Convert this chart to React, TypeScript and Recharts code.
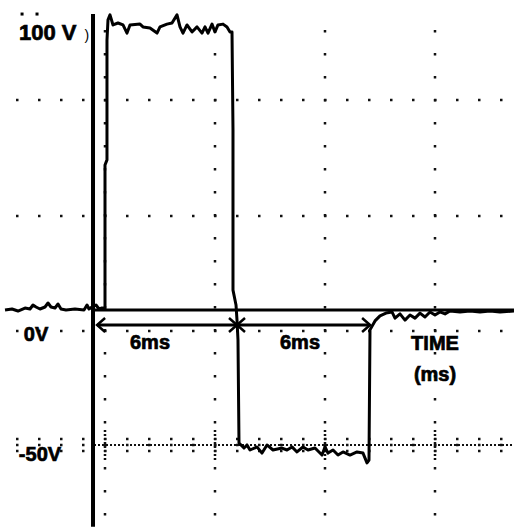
import React from 'react';
import { LineChart, Line, XAxis, YAxis, ReferenceLine, ReferenceDot } from 'recharts';

// Oscilloscope trace: time (ms) and voltage (V)
const sigTimeMs = [
  -4.545, -4.227, -3.955, -3.636, -3.409, -3.273, -3.136, -2.955, -2.727, -2.591,
  -2.455, -2.273, -2.136, -2.0, -1.773, -1.364, -0.955, -0.818, -0.727, -0.591,
  -0.409, -0.273, -0.136, 0.0,
  0.0, 0.09, 0.09, 0.136, 0.227,
  0.364, 0.591, 0.818, 1.0, 1.136, 1.591, 1.727, 2.045, 2.364, 2.5,
  2.818, 3.045, 3.273, 3.409, 3.545, 3.727, 3.955, 4.182, 4.409, 4.545,
  4.682, 4.864, 5.0, 5.136, 5.364, 5.545, 5.682,
  5.773, 5.818, 5.818, 5.955, 6.0, 6.045, 6.091,
  6.318, 6.455, 6.591, 6.909, 7.136, 7.364, 7.636, 8.045, 8.273, 8.5,
  8.727, 9.0, 9.227, 9.545, 9.864, 10.0, 10.136, 10.364, 10.591, 10.818,
  11.136, 11.455, 11.727, 11.909, 12.0,
  12.045, 12.273, 12.5, 12.773, 13.045,
  13.182, 13.409, 13.636, 13.864, 14.091, 14.318, 14.545, 14.773, 15.0, 15.227,
  15.455, 15.682, 16.136, 16.591, 17.045, 17.5, 17.955, 18.59,
];
const sigVolts = [
  0, 0.36, -0.36, 0.71, 0.36, 1.79, 1.07, 0.36, 1.07, 2.5,
  1.07, 0.71, 2.14, 0.36, 0, 0.36, 0, 1.79, 0.36, 1.07,
  1.79, 0.36, 0.71, 0.36,
  51.8, 53.6, 96.4, 103.6, 105.4,
  101.8, 102.5, 101.8, 98.9, 101.8, 102.1, 101.1, 100.7, 98.9, 101.1,
  102.1, 102.5, 105.4, 101.1, 98.9, 101.8, 99.3, 101.1, 98.9, 101.1,
  98.9, 102.1, 99.3, 101.8, 102.1, 101.1, 99.3,
  99.3, 64.3, 7.1, 1.8, -3.6, -10.7, -47.5,
  -49.3, -48.2, -50, -48.9, -51.1, -48.2, -50, -49.3, -50, -48.9,
  -50.7, -48.9, -50, -49.3, -51.8, -48.9, -51.1, -50, -51.8, -50.7,
  -51.8, -50.7, -51.1, -54.6, -53.6,
  -7.1, -3.9, -2.1, -1.1, -0.7,
  -2.9, -1.4, -3.6, -1.8, -2.9, -1.1, -2.5, -0.7, -1.8, -0.7,
  -1.4, -0.36, -0.7, -0.36, -0.7, -0.36, -0.7, -0.36,
];

const yTickValues = [100, 0, -50];
const yTickLabels = ['100 V', '0V', '-50V'];

const intervalFromMs = [-0.36, 6.0];
const intervalToMs = [6.0, 12.05];
const intervalLabels = ['6ms', '6ms'];

const xAxisTitle = ['TIME', '(ms)'];

const gridColsMs = [0, 5, 10, 15];
const gridRowsV = [75, 33.57, -7.5, -48.21];

const data = sigTimeMs.map((t, i) => ({ t, v: sigVolts[i] }));

const X_MIN = -4.7727;
const X_MAX = 18.5909;
const Y_MIN = -77.5;
const Y_MAX = 110.714;

const FONT = "'Liberation Sans', Arial, Helvetica, sans-serif";

// layout of labels (position in data units + pixel offsets)
const yLabelLayout = [
  { t: -2.6, dy: 10, size: 22 },
  { t: -3.136, dy: 31, size: 20 },
  { t: -2.955, dy: 11, size: 20 },
];
const intervalLabelLayout = [
  { t: 2.045, v: -14.0 },
  { t: 8.864, v: -14.0 },
];
const titleLayout = [
  { t: 15.0, v: -14.3 },
  { t: 15.0, v: -25.4 },
];

const ArrowShape = (p: any) => {
  const a = Math.min(p.x1, p.x2);
  const b = Math.max(p.x1, p.x2);
  const y = p.y1;
  const hl = 8;
  const hw = 7;
  return (
    <g>
      <line x1={a} y1={y} x2={b} y2={y} stroke="#000" strokeWidth={3} />
      <polyline points={`${a + hl},${y - hw} ${a},${y} ${a + hl},${y + hw}`} fill="none" stroke="#000" strokeWidth={2.5} />
      <polyline points={`${b - hl},${y - hw} ${b},${y} ${b - hl},${y + hw}`} fill="none" stroke="#000" strokeWidth={2.5} />
    </g>
  );
};

const textShape = (label: string, dy: number, size: number) => (p: any) => (
  <text
    x={p.cx}
    y={p.cy + dy}
    textAnchor="middle"
    fontFamily={FONT}
    fontWeight="bold"
    fontSize={size}
    fill="#000"
    stroke="#000"
    strokeWidth={0.7}
  >
    {label}
  </text>
);

const dotShape = (p: any) => <rect x={p.cx - 1.5} y={p.cy - 1.5} width={3} height={3} fill="#000" />;
const parenShape = (p: any) => (
  <text x={p.cx} y={p.cy} textAnchor="middle" fontFamily={FONT} fontSize={14} fill="#000">)</text>
);

export default function App() {
  return (
    <div style={{ position: 'absolute', left: 0, top: 0, width: 514, height: 527, background: '#fff' }}>
      <LineChart width={514} height={527} data={data} margin={{ top: 0, right: 0, bottom: 0, left: 0 }}>
        <XAxis type="number" dataKey="t" domain={[X_MIN, X_MAX]} allowDataOverflow hide />
        <YAxis type="number" domain={[Y_MIN, Y_MAX]} allowDataOverflow hide />

        {/* dotted grid columns */}
        {gridColsMs.map((c) => (
          <ReferenceLine
            key={`gc${c}`}
            ifOverflow="visible"
            segment={[{ x: c, y: 100 }, { x: c, y: Y_MIN + 0.1 }]}
            stroke="#111"
            strokeWidth={2.5}
            strokeDasharray="2.5 20.5"
          />
        ))}
        {/* dotted grid rows */}
        {gridRowsV.map((r) => (
          <ReferenceLine
            key={`gr${r}`}
            ifOverflow="visible"
            segment={[{ x: -4.045, y: r }, { x: X_MAX - 0.001, y: r }]}
            stroke="#111"
            strokeWidth={2.5}
            strokeDasharray="2.5 19.5"
          />
        ))}
        {/* -50 V reference row: fine dotted line with small tick groups */}
        <ReferenceLine ifOverflow="visible" segment={[{ x: -0.5, y: -48.21 }, { x: X_MAX - 0.001, y: -48.21 }]} stroke="#111" strokeWidth={2} strokeDasharray="2 2" />
        <ReferenceLine ifOverflow="visible" segment={[{ x: -4.045, y: -46.07 }, { x: X_MAX - 0.001, y: -46.07 }]} stroke="#111" strokeWidth={2.5} strokeDasharray="2.5 19.5" />
        <ReferenceLine ifOverflow="visible" segment={[{ x: -4.045, y: -50.36 }, { x: X_MAX - 0.001, y: -50.36 }]} stroke="#111" strokeWidth={2.5} strokeDasharray="2.5 19.5" />
        {gridColsMs.map((c) => (
          <ReferenceLine
            key={`gt${c}`}
            ifOverflow="visible"
            segment={[{ x: c, y: -42.86 }, { x: c, y: -53.57 }]}
            stroke="#111"
            strokeWidth={2.5}
            strokeDasharray="2 2"
          />
        ))}

        {/* axes */}
        <ReferenceLine ifOverflow="visible" segment={[{ x: -0.545, y: 105.7 }, { x: -0.545, y: Y_MIN + 0.1 }]} stroke="#000" strokeWidth={4} />
        <ReferenceLine ifOverflow="visible" segment={[{ x: -0.545, y: 0 }, { x: X_MAX - 0.001, y: 0 }]} stroke="#000" strokeWidth={3} />

        {/* interval arrows */}
        {intervalFromMs.map((f, i) => (
          <ReferenceLine
            key={`ar${i}`}
            ifOverflow="visible"
            segment={[{ x: f, y: -5.36 }, { x: intervalToMs[i], y: -5.36 }]}
            stroke="#000"
            shape={ArrowShape}
          />
        ))}

        <Line
          type="linear"
          dataKey="v"
          stroke="#000"
          strokeWidth={3}
          dot={false}
          activeDot={false}
          isAnimationActive={false}
          strokeLinejoin="round"
        />

        {/* labels */}
        {yTickValues.map((v, i) => (
          <ReferenceDot
            key={`yl${i}`}
            x={yLabelLayout[i].t}
            y={v}
            r={0}
            ifOverflow="visible"
            shape={textShape(yTickLabels[i], yLabelLayout[i].dy, yLabelLayout[i].size)}
          />
        ))}
        <ReferenceDot x={-3.77} y={105.7} r={0} ifOverflow="visible" shape={dotShape} />
        <ReferenceDot x={-3.09} y={105.7} r={0} ifOverflow="visible" shape={dotShape} />
        <ReferenceDot x={-0.82} y={96.4} r={0} ifOverflow="visible" shape={parenShape} />
        {intervalLabels.map((l, i) => (
          <ReferenceDot
            key={`il${i}`}
            x={intervalLabelLayout[i].t}
            y={intervalLabelLayout[i].v}
            r={0}
            ifOverflow="visible"
            shape={textShape(l, 0, 20)}
          />
        ))}
        {xAxisTitle.map((l, i) => (
          <ReferenceDot
            key={`xt${i}`}
            x={titleLayout[i].t}
            y={titleLayout[i].v}
            r={0}
            ifOverflow="visible"
            shape={textShape(l, 0, 20)}
          />
        ))}
      </LineChart>
    </div>
  );
}
